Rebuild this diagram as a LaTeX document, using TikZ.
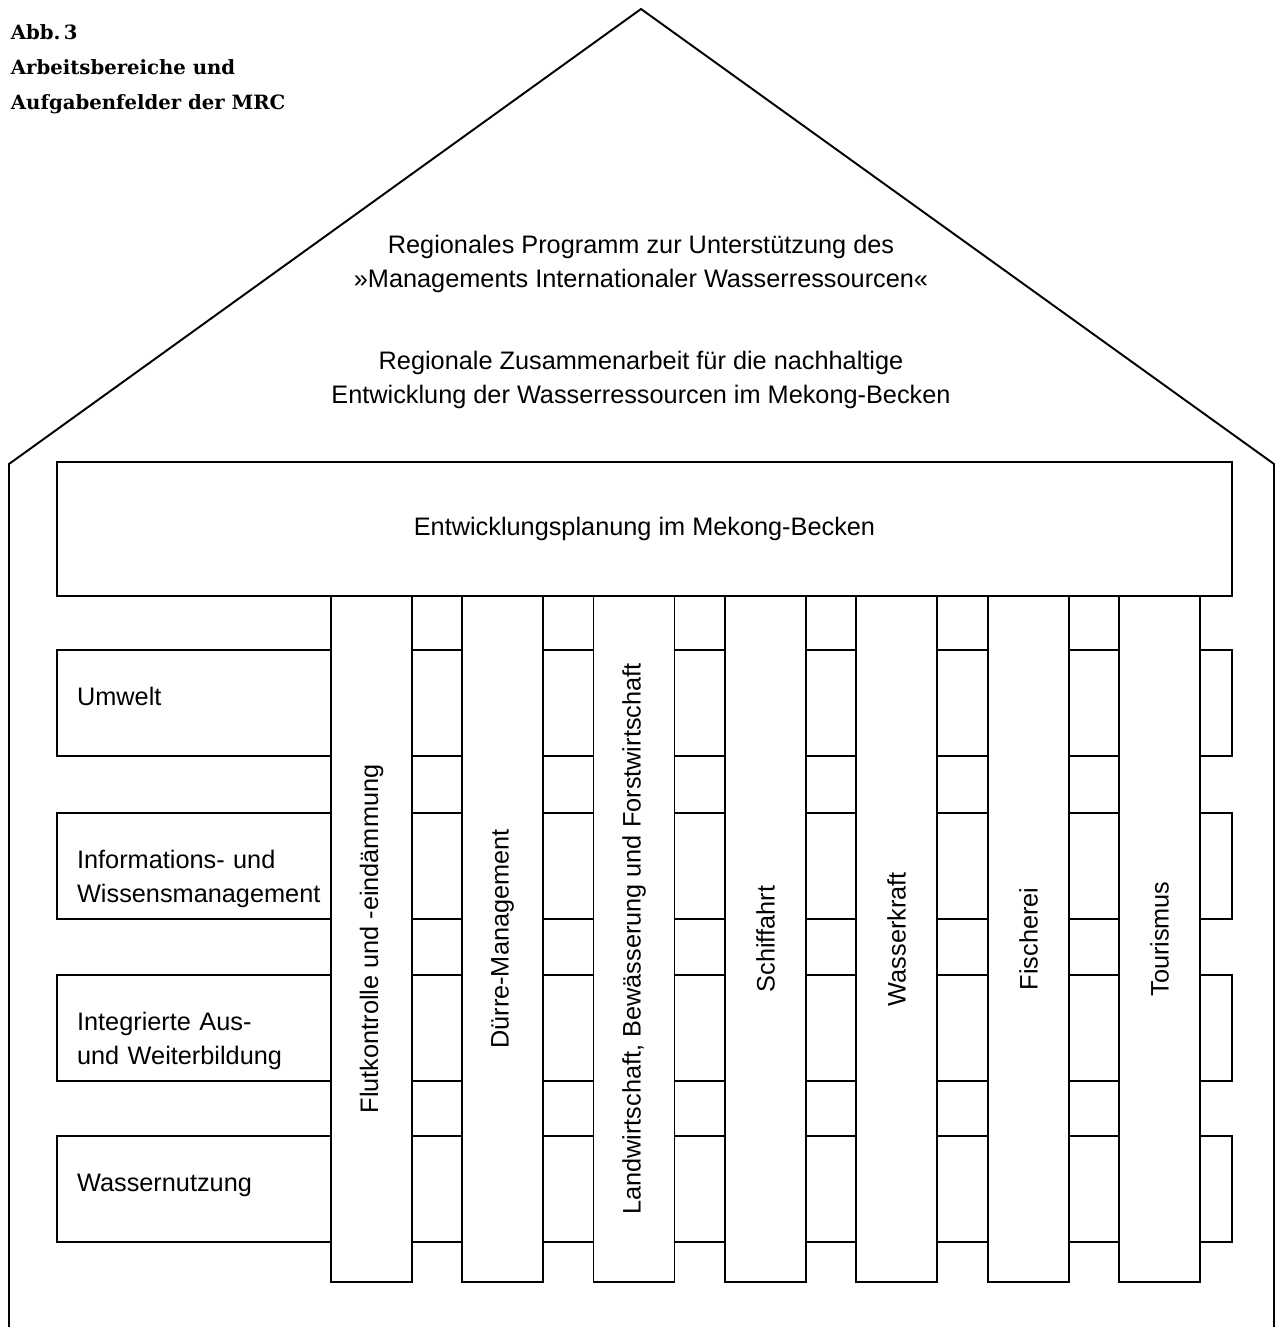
\documentclass[tikz,border=0pt]{standalone}
\usepackage{fontspec}
\setmainfont{Liberation Sans}
\newfontfamily\titlefont{DejaVu Serif}
\usetikzlibrary{positioning}

\begin{document}
\begin{tikzpicture}
[x=0.02cm, y=-0.02cm, line width=1.1pt,
 textfont/.style={font=\fontsize{14.4}{19.3}\selectfont},
 rowbox/.style={draw=black, fill=white, textfont, text width=22.7cm, inner xsep=0.4cm, minimum height=2.12cm, align=left, text height=12pt, text depth=9.6pt},
 columnbox/.style={draw=black, fill=white, textfont, rotate=90, minimum width=13.72cm, minimum height=1.62cm},
 roofnote/.style={textfont, align=center}]
\useasboundingbox (0,0) rectangle (1276,1327);
% house outline
\draw (9,1327) -- (9,464) -- (641,9) -- (1274,464) -- (1274,1327);
\node[anchor=north west, inner sep=0pt, align=left, font=\titlefont\bfseries\fontsize{11.2}{19.9}\selectfont] (titel) at (10,24) {Abb.\,3\\Arbeitsbereiche und\\Aufgabenfelder der MRC};
\node[roofnote] (programm) at (641,264) {Regionales Programm zur Unterstützung des\\»Managements Internationaler Wasserressourcen«};
\node[roofnote] (zusammenarbeit) at (641,380) {Regionale Zusammenarbeit für die nachhaltige\\Entwicklung der Wasserressourcen im Mekong-Becken};
\node[draw=black, textfont, minimum width=23.5cm, minimum height=2.68cm] (planung) at (644.5,529) {Entwicklungsplanung im Mekong-Becken};
% rows behind the columns
\node[rowbox] (umwelt)  at (644.5,703) {Umwelt};
\node[rowbox] (wissen)  at (644.5,866) {Informations- und\\Wissensmanagement};
\node[rowbox] (bildung) at (644.5,1028) {Integrierte Aus-\\und Weiterbildung};
\node[rowbox] (nutzung) at (644.5,1189) {Wassernutzung};
% columns
\node[columnbox] (flut)     at (371.5,939)  {Flutkontrolle und -eindämmung};
\node[columnbox] (duerre)   at (502.5,939)  {Dürre-Management};
\node[columnbox] (landwirt) at (634,939)    {Landwirtschaft, Bewässerung und Forstwirtschaft};
\node[columnbox] (schiff)   at (765.5,939)  {Schiffahrt};
\node[columnbox] (kraft)    at (896.5,939)  {Wasserkraft};
\node[columnbox] (fisch)    at (1028.5,939) {Fischerei};
\node[columnbox] (tour)     at (1159.5,939) {Tourismus};
\end{tikzpicture}
\end{document}
